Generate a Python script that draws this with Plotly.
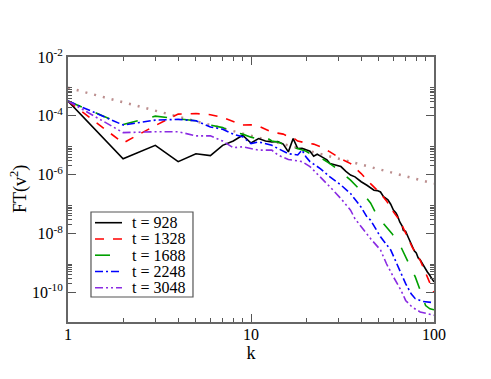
import plotly.graph_objects as go

# ---- data ----
k_928 = [1,2,3,4,5,6,7,8,9,10,11,12,13,14,15,16,17,18,19,20,21,22,23,24,26,27,29,31,33,35,37,40,43,45,47,49,51,53,56,58,60,62,63,65,67,68,70,72,73,75,76,78,80,82,84,86,88,90,92,94,96,98,100]
ft_928 = [3.2e-4,3.5e-6,1.0e-5,2.8e-6,5.2e-6,4.5e-6,1.0e-5,1.4e-5,2.2e-5,1.2e-5,1.7e-5,1.4e-5,1.3e-5,1.35e-5,1.1e-5,6.0e-6,1.7e-5,7.8e-6,7.9e-6,7.1e-6,6.3e-6,4.3e-6,5.0e-6,4.3e-6,3.2e-6,2.4e-6,2.1e-6,1.9e-6,1.3e-6,9.8e-7,8.5e-7,5.8e-7,4.4e-7,3.6e-7,3.0e-7,2.9e-7,2.6e-7,1.8e-7,1.4e-7,1.0e-7,6.3e-8,5.0e-8,4.2e-8,2.5e-8,1.8e-8,1.3e-8,1.2e-8,8.0e-9,6.5e-9,4.5e-9,3.5e-9,2.6e-9,2.2e-9,1.5e-9,1.3e-9,1.0e-9,8.2e-10,6.5e-10,5.0e-10,4.2e-10,3.3e-10,2.6e-10,2.3e-10]

k_1328 = [1,2,3,4,5,6,7,8,9,10,11,12,13,14,15,16,17,18,19,20,22,24,27,31,35,40,45,51,55,60,65,70,76,84,92,100]
ft_1328 = [3.2e-4,1.2e-5,4.7e-5,1.15e-4,1.2e-4,1.1e-4,8.9e-5,6.3e-5,4.9e-5,5.0e-5,4.5e-5,3.5e-5,2.8e-5,2.6e-5,2.4e-5,2.0e-5,1.8e-5,1.4e-5,1.26e-5,1.2e-5,1.1e-5,8.9e-6,6.0e-6,3.5e-6,2.4e-6,1.1e-6,5.0e-7,2.3e-7,1.3e-7,5.5e-8,2.8e-8,1.1e-8,3.5e-9,1.26e-9,3.4e-10,1.0e-10]

k_1688 = [1,2,3,4,5,6,7,8,9,10,11,12,13,14,15,16,17,18,20,21,22,24,27,31,35,40,45,48,53,59,66,73,79,84,90,95,100]
ft_1688 = [3.2e-4,5.1e-5,9.8e-5,7.8e-5,6.8e-5,4.9e-5,4.0e-5,2.8e-5,2.4e-5,1.9e-5,1.6e-5,1.9e-5,1.4e-5,1.3e-5,1.1e-5,7.9e-6,8.3e-6,7.8e-6,6.3e-6,5.2e-6,4.0e-6,3.8e-6,2.4e-6,1.26e-6,6.6e-7,2.8e-7,1.1e-7,5.0e-8,2.2e-8,1.0e-8,3.5e-9,9.5e-10,3.4e-10,1.2e-10,3.6e-11,2.8e-11,2.6e-11]

k_2248 = [1,2,3,4,5,6,7,8,9,10,11,12,13,14,16,18,19,20,21,24,27,31,35,40,43,45,51,58,64,70,75,79,87,100]
ft_2248 = [3.2e-4,4.9e-5,7.2e-5,7.6e-5,6.8e-5,4.2e-5,3.5e-5,2.4e-5,1.95e-5,1.15e-5,1.3e-5,1.1e-5,1.0e-5,7.9e-6,5.2e-6,4.7e-6,6.9e-6,4.0e-6,2.8e-6,1.6e-6,8.5e-7,4.5e-7,2.3e-7,7.9e-8,3.7e-8,2.9e-8,7.8e-9,2.8e-9,7.4e-10,2.0e-10,9.1e-11,6.2e-11,5.0e-11,4.5e-11]

k_3048 = [1,2,3,4,5,6,7,8,9,10,11,13,14,16,19,21,24,27,31,35,37,40,45,51,55,60,66,70,76,84,100]
ft_3048 = [3.2e-4,2.7e-5,2.9e-5,2.9e-5,2.1e-5,2.1e-5,1.4e-5,8.3e-6,8.9e-6,7.8e-6,6.9e-6,6.9e-6,4.7e-6,3.3e-6,2.8e-6,1.9e-6,8.5e-7,3.9e-7,1.55e-7,6.3e-8,3.2e-8,1.7e-8,6.8e-9,2.8e-9,9.5e-10,3.4e-10,1.2e-10,5.4e-11,3.2e-11,2.2e-11,1.7e-11]

k_ref = [1, 100]
ft_ref = [9e-4, 5e-7]

series_names = ["t = 928", "t = 1328", "t = 1688", "t = 2248", "t = 3048"]

x_tickvals = [1, 10, 100]
x_ticktext = ["1", "10", "100"]
y_tickvals = [1e-10, 1e-8, 1e-6, 1e-4, 1e-2]
y_ticktext = ["10<sup>-10</sup>", "10<sup>-8</sup>", "10<sup>-6</sup>", "10<sup>-4</sup>", "10<sup>-2</sup>"]

x_minor = [m * 10 ** e for e in (0, 1) for m in range(2, 10)]
y_minor = [m * 10.0 ** e for e in (-12, -10, -8, -6, -4) for m in range(2, 10)]

FONT = "Liberation Serif, Times New Roman, serif"

fig = go.Figure()
fig.add_trace(go.Scatter(x=k_ref, y=ft_ref, mode="lines", showlegend=False,
                         line=dict(color="#bc8f8f", width=2.5, dash="2px,7px")))
styles = [
    ("#000000", "solid"),
    ("#ff0000", "dash"),
    ("#00a000", "longdash"),
    ("#0000ff", "8px,3px,2px,3px"),
    ("#8a2be2", "8px,3px,2px,3px,2px,3px"),
]
data = [(k_928, ft_928), (k_1328, ft_1328), (k_1688, ft_1688), (k_2248, ft_2248), (k_3048, ft_3048)]
for (kk, ff), name, (col, dash) in zip(data, series_names, styles):
    fig.add_trace(go.Scatter(x=kk, y=ff, mode="lines", name=name, showlegend=False,
                             line=dict(color=col, width=1.6, dash=dash)))

# legend box drawn in paper coordinates (Grace-style legend)
fig.add_shape(type="rect", xref="paper", yref="paper", x0=0.0628, x1=0.3415,
              y0=0.0943, y1=0.4151, line=dict(color="#555555", width=1.2),
              fillcolor="white", layer="above")
row_y0 = 0.3747
row_step = 0.0613
for i, (name, (col, dash)) in enumerate(zip(series_names, styles)):
    yy = row_y0 - i * row_step
    fig.add_shape(type="line", xref="paper", yref="paper", x0=0.0738, x1=0.1475,
                  y0=yy, y1=yy, line=dict(color=col, width=1.6, dash=dash), layer="above")
    fig.add_annotation(text=name, xref="paper", yref="paper", x=0.1694, y=yy,
                       xanchor="left", yanchor="middle", showarrow=False,
                       font=dict(family=FONT, size=16, color="black"))

axis_common = dict(
    type="log", showgrid=False, zeroline=False, showline=True, linecolor="#666666",
    linewidth=2, mirror="allticks", ticks="inside", ticklen=8, tickwidth=1,
    tickcolor="#555555", tickfont=dict(family=FONT, size=16, color="black"),
)
fig.update_xaxes(**axis_common, range=[0, 2], tickmode="array", tickvals=x_tickvals,
                 ticktext=x_ticktext, ticklabelstandoff=-3,
                 minor=dict(tickmode="array", tickvals=x_minor, ticks="inside", ticklen=4,
                            tickcolor="#555555", tickwidth=1),
                 title=dict(text="k", font=dict(family=FONT, size=18, color="black"), standoff=0))
fig.update_yaxes(**axis_common, range=[-11, -2], tickmode="array", tickvals=y_tickvals,
                 ticktext=y_ticktext,
                 minor=dict(tickmode="array", tickvals=y_minor, ticks="inside", ticklen=4,
                            tickcolor="#555555", tickwidth=1))

fig.add_annotation(text="FT(v<sup>2</sup>)", xref="paper", yref="paper", x=-0.135, y=0.5,
                   xanchor="center", yanchor="middle", textangle=-90, showarrow=False,
                   font=dict(family=FONT, size=18, color="black"))

# page body has an 8px margin, so the figure is offset by 8px
fig.update_layout(
    width=475, height=363,
    margin=dict(l=60, r=49, t=49, b=49, autoexpand=False),
    paper_bgcolor="white", plot_bgcolor="white",
    showlegend=False,
)

fig.write_html("out.html")
